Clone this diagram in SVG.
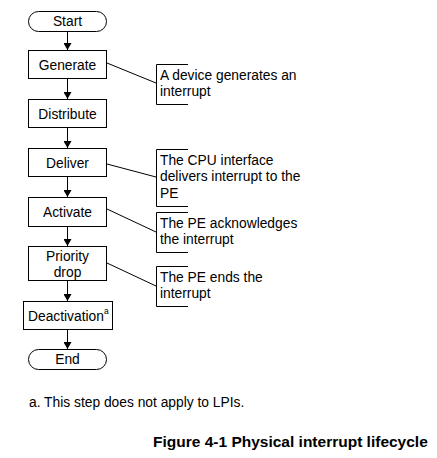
<svg xmlns="http://www.w3.org/2000/svg" width="437" height="458" viewBox="0 0 437 458">
<style>
.box{fill:#fff;stroke:#000;stroke-width:1}
.t{font-family:"Liberation Sans",Arial,sans-serif;font-size:13.8px;fill:#000}
.c{text-anchor:middle}
.cap{font-size:15.5px;font-weight:bold}
.ln{stroke:#000;stroke-width:1;fill:none}
.ann{stroke:#000;stroke-width:1;fill:none}
</style>
<defs>
<marker id="ah" markerWidth="8" markerHeight="8" refX="7" refY="4" orient="auto" markerUnits="userSpaceOnUse">
<path d="M0,0 L7,4 L0,8 Z" fill="#000"/>
</marker>
</defs>
<rect width="437" height="458" fill="#fff"/>
<g id="connectors">
<line class="ln" x1="67.5" y1="31" x2="67.5" y2="50" marker-end="url(#ah)"/>
<line class="ln" x1="67.5" y1="79" x2="67.5" y2="99" marker-end="url(#ah)"/>
<line class="ln" x1="67.5" y1="128" x2="67.5" y2="148" marker-end="url(#ah)"/>
<line class="ln" x1="67.5" y1="177" x2="67.5" y2="197" marker-end="url(#ah)"/>
<line class="ln" x1="67.5" y1="227" x2="67.5" y2="246" marker-end="url(#ah)"/>
<line class="ln" x1="67.5" y1="281" x2="67.5" y2="301" marker-end="url(#ah)"/>
<line class="ln" x1="67.5" y1="330" x2="67.5" y2="349" marker-end="url(#ah)"/>
<line class="ln" x1="107" y1="63" x2="156" y2="83"/>
<line class="ln" x1="107" y1="164" x2="156" y2="177"/>
<line class="ln" x1="107" y1="209" x2="156" y2="232"/>
<line class="ln" x1="107" y1="263" x2="156" y2="286"/>
</g>
<g id="start">
<rect class="box" x="28.5" y="11.5" width="78" height="20" rx="10" ry="10"/>
<text class="t c" x="67.5" y="26">Start</text>
</g>
<g id="generate">
<rect class="box" x="28.5" y="50.5" width="78" height="28"/>
<text class="t c" x="67.5" y="69.5">Generate</text>
</g>
<g id="distribute">
<rect class="box" x="28.5" y="99.5" width="78" height="28"/>
<text class="t c" x="67.5" y="118.5">Distribute</text>
</g>
<g id="deliver">
<rect class="box" x="28.5" y="148.5" width="78" height="28"/>
<text class="t c" x="67.5" y="167.5">Deliver</text>
</g>
<g id="activate">
<rect class="box" x="28.5" y="197.5" width="78" height="29"/>
<text class="t c" x="67.5" y="216.5">Activate</text>
</g>
<g id="priority-drop">
<rect class="box" x="28.5" y="246.5" width="78" height="34"/>
<text class="t c" x="67.5" y="261">Priority</text>
<text class="t c" x="67.5" y="276.5">drop</text>
</g>
<g id="deactivation">
<rect class="box" x="23.5" y="301.5" width="89" height="28"/>
<text class="t" x="28" y="320.5">Deactivation<tspan style="font-size:8.5px" dy="-7">a</tspan></text>
</g>
<g id="end">
<rect class="box" x="28.5" y="349.5" width="78" height="20" rx="10" ry="10"/>
<text class="t c" x="67.5" y="364">End</text>
</g>
<g id="note-generate">
<path class="ann" d="M188,64.5 H156.5 V104.5 H188"/>
<text class="t" x="160" y="80">A device generates an</text>
<text class="t" x="160" y="96">interrupt</text>
</g>
<g id="note-deliver">
<path class="ann" d="M188,149.5 H156.5 V206.5 H188"/>
<text class="t" x="160" y="164.5">The CPU interface</text>
<text class="t" x="160" y="181">delivers interrupt to the</text>
<text class="t" x="160" y="197.5">PE</text>
</g>
<g id="note-activate">
<path class="ann" d="M188,212.5 H156.5 V252.5 H188"/>
<text class="t" x="160" y="227.5">The PE acknowledges</text>
<text class="t" x="160" y="243.5">the interrupt</text>
</g>
<g id="note-priority">
<path class="ann" d="M188,266.5 H156.5 V306.5 H188"/>
<text class="t" x="160" y="282">The PE ends the</text>
<text class="t" x="160" y="297.5">interrupt</text>
</g>
<text class="t" x="29" y="407">a. This step does not apply to LPIs.</text>
<text class="t cap" x="153" y="447">Figure 4-1 Physical interrupt lifecycle</text>
</svg>
